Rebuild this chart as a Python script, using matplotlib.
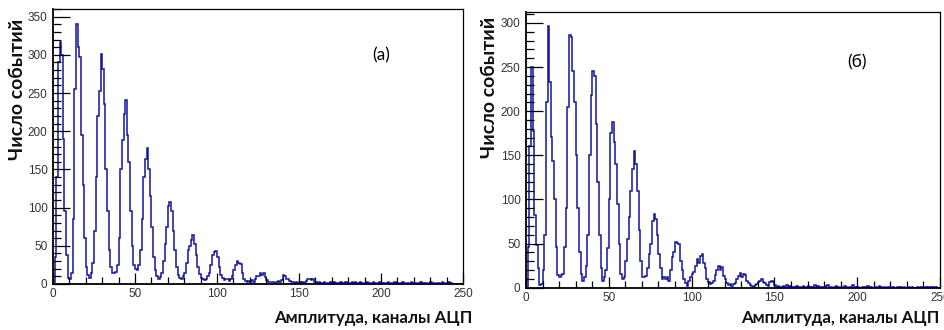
import numpy as np
import matplotlib
matplotlib.use("Agg")
import matplotlib.pyplot as plt
from matplotlib.ticker import MultipleLocator

# Histogram counts per ADC channel (bin width = 1 channel, 0..250)
counts_a = [
    2, 35, 140, 290, 317, 300, 190, 95, 38, 8,
    6, 14, 85, 255, 341, 310, 297, 195, 130, 60,
    22, 12, 8, 15, 28, 70, 140, 220, 253, 301,
    282, 235, 150, 95, 45, 22, 15, 14, 16, 25,
    60, 150, 188, 223, 241, 195, 160, 95, 50, 25,
    19, 18, 25, 45, 85, 140, 163, 178, 150, 115,
    75, 35, 18, 10, 7, 9, 15, 30, 52, 75,
    102, 108, 95, 70, 45, 22, 12, 8, 7, 10,
    14, 28, 45, 50, 58, 64, 52, 38, 22, 13,
    8, 6, 5, 7, 10, 14, 25, 38, 42, 43,
    35, 22, 12, 8, 5, 7, 6, 4, 6, 11,
    18, 25, 30, 28, 26, 15, 7, 4, 2, 4,
    3, 5, 3, 6, 10, 11, 14, 12, 15, 9,
    5, 3, 2, 3, 2, 1, 3, 4, 3, 5,
    12, 10, 7, 6, 4, 2, 3, 1, 2, 1,
    2, 0, 3, 1, 4, 7, 6, 5, 6, 3,
    2, 1, 2, 1, 1, 2, 0, 1, 1, 2,
    1, 3, 1, 0, 1, 2, 1, 1, 2, 1,
    0, 1, 2, 1, 3, 1, 1, 2, 1, 0,
    1, 2, 1, 1, 0, 2, 1, 0, 1, 2,
    1, 0, 1, 1, 2, 0, 1, 0, 2, 1,
    1, 0, 1, 2, 0, 1, 1, 0, 2, 1,
    0, 1, 0, 1, 2, 1, 0, 1, 0, 1,
    2, 0, 1, 0, 1, 1, 0, 2, 1, 0,
    1, 2, 1, 0, 0, 0, 0, 0, 0, 0,
]

counts_b = [
    0, 46, 160, 250, 178, 82, 48, 22, 3, 4,
    20, 60, 210, 297, 233, 171, 143, 100, 46, 14,
    12, 14, 15, 46, 90, 205, 286, 284, 245, 210,
    150, 90, 40, 15, 8, 12, 25, 60, 150, 218,
    246, 240, 185, 120, 60, 22, 8, 12, 20, 45,
    100, 175, 188, 165, 140, 95, 50, 15, 10, 12,
    30, 55, 80, 110, 135, 155, 140, 110, 65, 30,
    12, 12, 13, 22, 38, 50, 75, 83, 78, 60,
    38, 22, 10, 12, 10, 12, 8, 20, 35, 40,
    52, 51, 50, 30, 20, 10, 5, 2, 8, 12,
    15, 18, 25, 32, 28, 36, 38, 28, 22, 10,
    6, 4, 5, 8, 14, 20, 25, 20, 24, 13,
    10, 5, 3, 4, 2, 4, 5, 10, 13, 17,
    12, 15, 14, 8, 5, 3, 2, 1, 3, 4,
    6, 8, 10, 7, 5, 3, 2, 6, 8, 7,
    3, 1, 2, 1, 1, 2, 1, 3, 1, 2,
    1, 0, 1, 2, 1, 1, 0, 2, 1, 1,
    2, 1, 0, 1, 3, 1, 2, 1, 0, 1,
    1, 2, 3, 1, 1, 0, 1, 2, 1, 0,
    1, 0, 2, 1, 0, 1, 0, 3, 1, 0,
    1, 0, 0, 1, 0, 1, 2, 0, 1, 0,
    0, 1, 0, 2, 1, 0, 1, 0, 1, 1,
    0, 1, 0, 0, 1, 0, 1, 0, 1, 0,
    0, 1, 0, 1, 0, 0, 1, 0, 1, 1,
    0, 1, 0, 1, 1, 0, 1, 1, 0, 0,
]

edges = np.arange(0, 251)
panel_tags = ["(а)", "(б)"]
y_max = [360, 312]

hist_color = "#14149e"
tick_font = ["Liberation Sans Narrow", "Liberation Sans", "DejaVu Sans"]
label_font = ["Lato", "Open Sans", "DejaVu Sans"]

fig = plt.figure(figsize=(9.45, 3.3), dpi=100)

# axes rectangles in figure fractions
rects = [
    [0.0561, 0.1394, 0.4339, 0.8333],
    [0.5566, 0.1282, 0.4381, 0.8345],
]

for i, counts in enumerate([counts_a, counts_b]):
    ax = fig.add_axes(rects[i])
    ax.stairs(counts, edges, color=hist_color, lw=1.1)
    ax.set_xlim(0, 250)
    ax.set_ylim(0, y_max[i])

    ax.xaxis.set_major_locator(MultipleLocator(50))
    ax.xaxis.set_minor_locator(MultipleLocator(10))
    ax.yaxis.set_major_locator(MultipleLocator(50))
    ax.yaxis.set_minor_locator(MultipleLocator(10))
    ax.tick_params(axis="both", which="both", direction="in",
                   top=False, right=False, color="black", width=0.9)
    ax.tick_params(axis="y", which="major", length=12, pad=4)
    ax.tick_params(axis="y", which="minor", length=6)
    ax.tick_params(axis="x", which="major", length=8, pad=3)
    ax.tick_params(axis="x", which="minor", length=5)

    for lab in ax.get_xticklabels() + ax.get_yticklabels():
        lab.set_family(tick_font)
        lab.set_fontsize(8.5)
        lab.set_color("#333333")

    for s in ax.spines.values():
        s.set_color("black")
        s.set_linewidth(0.9)
    ax.spines["left"].set_linewidth(1.3)
    ax.spines["bottom"].set_linewidth(1.3)

    ax.text(0.80, 0.83 if i == 0 else 0.82, panel_tags[i], transform=ax.transAxes,
            ha="center", va="center", fontsize=12.5, family=label_font)

# axis titles, ROOT style: aligned to the axis ends
for xpos, ytop in [(18, 19), (490, 17)]:
    fig.text(xpos / 945, 1 - ytop / 330, "Число событий", rotation=90, ha="center",
             va="top", fontsize=14, fontweight="bold", family=label_font,
             color="#111111")
for xend in [473, 940]:
    fig.text(xend / 945, 1 - 318 / 330, "Амплитуда, каналы АЦП", ha="right",
             va="center", fontsize=12.2, fontweight="bold", family=label_font,
             color="#111111")

fig.savefig("out.png", dpi=100)
